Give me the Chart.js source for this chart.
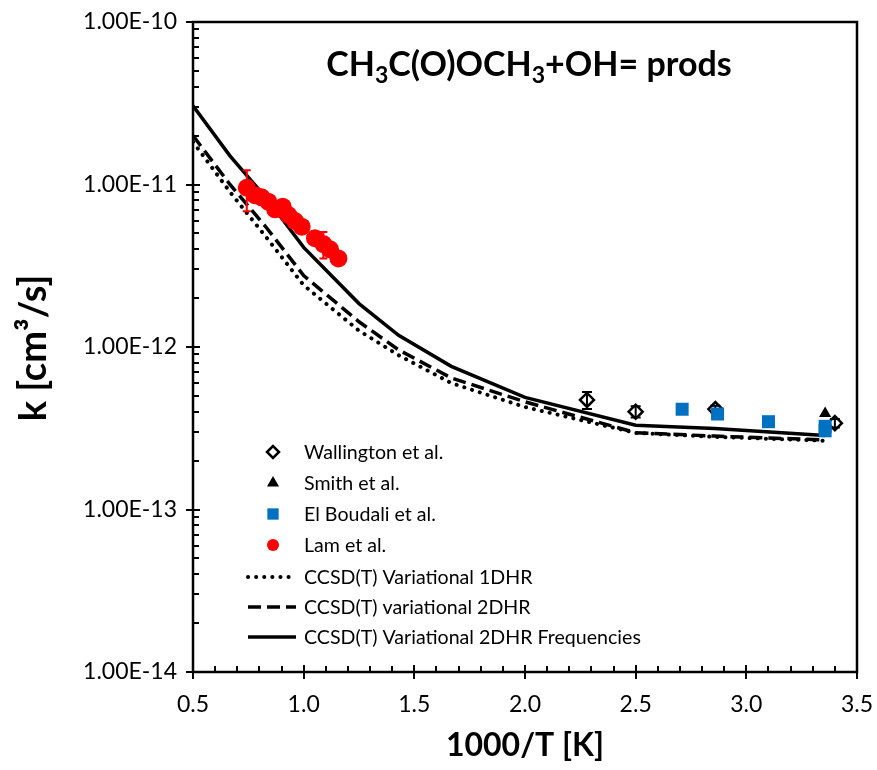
<!DOCTYPE html>
<html>
<head>
<meta charset="utf-8">
<script src="https://cdn.jsdelivr.net/npm/chart.js@4.4.1/dist/chart.umd.min.js"></script>
<style>
  html, body { margin: 0; padding: 0; background: #fff; }
  canvas { display: block; }
</style>
</head>
<body>
<canvas id="rateChart" width="877" height="770"></canvas>
<script>
// 計算値 (x = 1000/T)
const calcX = [0.5, 0.667, 0.833, 1.0, 1.25, 1.429, 1.667, 2.0, 2.5, 2.857, 3.356];
const var1DHR = [1.83e-11, 9.0e-12, 4.7e-12, 2.4e-12, 1.26e-12, 8.9e-13, 6.0e-13, 4.27e-13, 2.96e-13, 2.8e-13, 2.65e-13];
const var2DHR = [2.0e-11, 1.0e-11, 5.4e-12, 2.75e-12, 1.43e-12, 9.6e-13, 6.45e-13, 4.6e-13, 2.97e-13, 2.83e-13, 2.68e-13];
const var2DHRFreq = [3.05e-11, 1.5e-11, 8.2e-12, 4.1e-12, 1.85e-12, 1.18e-12, 7.6e-13, 4.9e-13, 3.3e-13, 3.15e-13, 2.85e-13];

// 実験値
const wallX = [2.28, 2.50, 2.86, 3.40];
const wallK = [4.72e-13, 4.0e-13, 4.15e-13, 3.4e-13];
const wallErr = [0.57e-13, 0.32e-13, 0.2e-13, 0.2e-13];
const smithX = [3.356];
const smithK = [3.9e-13];
const boudaliX = [2.71, 2.87, 3.10, 3.356, 3.356];
const boudaliK = [4.14e-13, 3.87e-13, 3.47e-13, 3.25e-13, 3.05e-13];
const lamX = [0.743, 0.780, 0.810, 0.840, 0.871, 0.905, 0.931, 0.961, 0.991, 1.051, 1.089, 1.119, 1.157];
const lamK = [9.55e-12, 8.6e-12, 8.34e-12, 7.84e-12, 7.03e-12, 7.3e-12, 6.49e-12, 5.96e-12, 5.5e-12, 4.67e-12, 4.3e-12, 3.99e-12, 3.51e-12];
const lamErr = [2.7e-12, 0, 0, 0, 0, 0, 0, 0, 0, 0, 0.8e-12, 0, 0];

// 軸
const xTicks = [0.5, 1.0, 1.5, 2.0, 2.5, 3.0, 3.5];
const yTicks = [1e-14, 1e-13, 1e-12, 1e-11, 1e-10];
const yTickLabels = ['1.00E-14', '1.00E-13', '1.00E-12', '1.00E-11', '1.00E-10'];

const FONT = 'Lato, "Open Sans", sans-serif';
const toPts = (xs, ys) => xs.map((x, i) => ({ x: x, y: ys[i] }));

// エラーバー
const errorBars = {
    id: 'errorBars',
    afterDatasetDraw(chart, args) {
        const ds = chart.data.datasets[args.index];
        if (!ds.err) return;
        const { ctx, scales: { x, y } } = chart;
        ctx.save();
        ctx.strokeStyle = ds.errColor;
        ctx.lineWidth = 2;
        ds.data.forEach((p, i) => {
            const e = ds.err[i];
            if (!e) return;
            const px = x.getPixelForValue(p.x);
            const top = y.getPixelForValue(p.y + e);
            const bot = y.getPixelForValue(p.y - e);
            const w = ds.capWidth;
            ctx.beginPath();
            ctx.moveTo(px, top); ctx.lineTo(px, bot);
            ctx.moveTo(px - w, top); ctx.lineTo(px + w, top);
            ctx.moveTo(px - w, bot); ctx.lineTo(px + w, bot);
            ctx.stroke();
        });
        ctx.restore();
    }
};

// 枠・目盛り・タイトル・凡例
const decor = {
    id: 'decor',
    afterDraw(chart) {
        const { ctx, chartArea: a, scales: { x, y } } = chart;
        ctx.save();
        ctx.strokeStyle = '#000';
        ctx.lineWidth = 2.5;
        ctx.strokeRect(a.left, a.top, a.right - a.left, a.bottom - a.top);

        ctx.lineWidth = 2;
        ctx.beginPath();
        for (let v = 0.6; v < 3.45; v += 0.1) {
            const px = Math.round(x.getPixelForValue(v));
            ctx.moveTo(px, a.bottom); ctx.lineTo(px, a.bottom - 6);
        }
        xTicks.forEach(v => {
            const px = Math.round(x.getPixelForValue(v));
            ctx.moveTo(px, a.bottom + 7); ctx.lineTo(px, a.bottom - 7);
        });
        yTicks.forEach((v, i) => {
            const py = Math.round(y.getPixelForValue(v));
            ctx.moveTo(a.left - 7, py); ctx.lineTo(a.left + 7, py);
            if (i < yTicks.length - 1) {
                for (let m = 2; m <= 9; m++) {
                    const my = Math.round(y.getPixelForValue(v * m));
                    ctx.moveTo(a.left, my); ctx.lineTo(a.left + 6, my);
                }
            }
        });
        ctx.stroke();

        ctx.fillStyle = '#000';
        // 軸タイトル
        ctx.textAlign = 'center';
        ctx.textBaseline = 'middle';
        ctx.font = 'bold 32px ' + FONT;
        ctx.fillText('1000/T [K]', (a.left + a.right) / 2, 746);
        ctx.save();
        ctx.font = 'bold 38px ' + FONT;
        ctx.translate(34, 348);
        ctx.rotate(-Math.PI / 2);
        ctx.fillText('k [cm³/s]', 0, 0);
        ctx.restore();

        // グラフタイトル (下付き文字)
        const parts = [['CH', 0], ['3', 1], ['C(O)OCH', 0], ['3', 1], ['+OH= prods', 0]];
        const big = 'bold 34px ' + FONT, small = 'bold 23px ' + FONT;
        let total = 0;
        parts.forEach(([t, s]) => { ctx.font = s ? small : big; total += ctx.measureText(t).width; });
        let tx = 529 - total / 2;
        ctx.textAlign = 'left';
        ctx.textBaseline = 'alphabetic';
        parts.forEach(([t, s]) => {
            ctx.font = s ? small : big;
            ctx.fillText(t, tx, s ? 83 : 76);
            tx += ctx.measureText(t).width;
        });

        // 凡例
        ctx.font = '19.6px ' + FONT;
        ctx.textBaseline = 'middle';
        const rowY = [452, 483, 514, 545, 577, 607, 637];
        chart.data.datasets.forEach((ds, i) => {
            const ry = rowY[i];
            ctx.strokeStyle = ds.borderColor;
            ctx.fillStyle = ds.backgroundColor;
            if (ds.showLine) {
                ctx.lineWidth = ds.borderWidth;
                ctx.lineCap = ds.borderCapStyle || 'butt';
                ctx.setLineDash(ds.borderDash || []);
                ctx.beginPath();
                ctx.moveTo(248, ry); ctx.lineTo(296, ry);
                ctx.stroke();
                ctx.setLineDash([]);
                ctx.lineCap = 'butt';
            } else {
                ctx.lineWidth = ds.pointBorderWidth || 0;
                Chart.helpers.drawPoint(ctx, {
                    pointStyle: ds.pointStyle, radius: ds.legendRadius,
                    rotation: 0, borderWidth: ds.pointBorderWidth || 0
                }, 273, ry);
            }
            ctx.fillStyle = '#000';
            ctx.fillText(ds.label, 304, ry + 1);
        });
        ctx.restore();
    }
};

const lineBase = { showLine: true, pointRadius: 0, borderColor: '#000', backgroundColor: '#000', tension: 0, fill: false };
const hiddenGrid = (len) => ({ display: true, drawOnChartArea: false, drawTicks: true, tickLength: len, color: 'rgba(0,0,0,0)' });

new Chart(document.getElementById('rateChart'), {
    type: 'scatter',
    data: {
        datasets: [
            {
                label: 'Wallington et al.', data: toPts(wallX, wallK), err: wallErr, errColor: '#000', capWidth: 5,
                pointStyle: 'rectRot', pointRadius: 7, legendRadius: 6, backgroundColor: '#fff', borderColor: '#000',
                pointBorderWidth: 2.5, borderWidth: 2.5, order: 4
            },
            {
                label: 'Smith et al.', data: toPts(smithX, smithK),
                pointStyle: 'triangle', pointRadius: 7, legendRadius: 7, backgroundColor: '#000', borderColor: '#000',
                borderWidth: 0, order: 3
            },
            {
                label: 'El Boudali et al.', data: toPts(boudaliX, boudaliK),
                pointStyle: 'rect', pointRadius: 9.2, legendRadius: 8, backgroundColor: '#0070C0', borderColor: '#0070C0',
                borderWidth: 0, order: 2
            },
            {
                label: 'Lam et al.', data: toPts(lamX, lamK), err: lamErr, errColor: '#FF0000', capWidth: 4,
                pointStyle: 'circle', pointRadius: 9, legendRadius: 6, backgroundColor: '#FF0000', borderColor: '#FF0000',
                borderWidth: 0, order: 1
            },
            Object.assign({}, lineBase, {
                label: 'CCSD(T) Variational 1DHR', data: toPts(calcX, var1DHR),
                borderWidth: 4, borderDash: [0.1, 8], borderCapStyle: 'round', order: 12
            }),
            Object.assign({}, lineBase, {
                label: 'CCSD(T) variational 2DHR', data: toPts(calcX, var2DHR),
                borderWidth: 3.5, borderDash: [13, 6], order: 11
            }),
            Object.assign({}, lineBase, {
                label: 'CCSD(T) Variational 2DHR Frequencies', data: toPts(calcX, var2DHRFreq),
                borderWidth: 3.5, order: 10
            })
        ]
    },
    options: {
        responsive: false,
        animation: false,
        devicePixelRatio: 1,
        layout: { padding: { left: 0, right: 20, top: 22, bottom: 0 } },
        plugins: { legend: { display: false }, tooltip: { enabled: false } },
        scales: {
            x: {
                type: 'linear', min: 0.5, max: 3.5,
                grid: hiddenGrid(19),
                border: { display: false },
                afterBuildTicks: s => { s.ticks = xTicks.map(v => ({ value: v })); },
                afterFit: s => { s.height = 98; },
                ticks: {
                    callback: v => v.toFixed(1),
                    color: '#000', padding: 0, maxRotation: 0,
                    font: { family: FONT, size: 23 }
                }
            },
            y: {
                type: 'logarithmic', min: 1e-14, max: 1e-10,
                grid: hiddenGrid(16),
                border: { display: false },
                afterBuildTicks: s => { s.ticks = yTicks.map(v => ({ value: v })); },
                afterFit: s => { s.width = 193; },
                ticks: {
                    callback: (v, i) => yTickLabels[i],
                    color: '#000', padding: 0, autoSkip: false,
                    font: { family: FONT, size: 23 }
                }
            }
        }
    },
    plugins: [errorBars, decor]
});
</script>
</body>
</html>
